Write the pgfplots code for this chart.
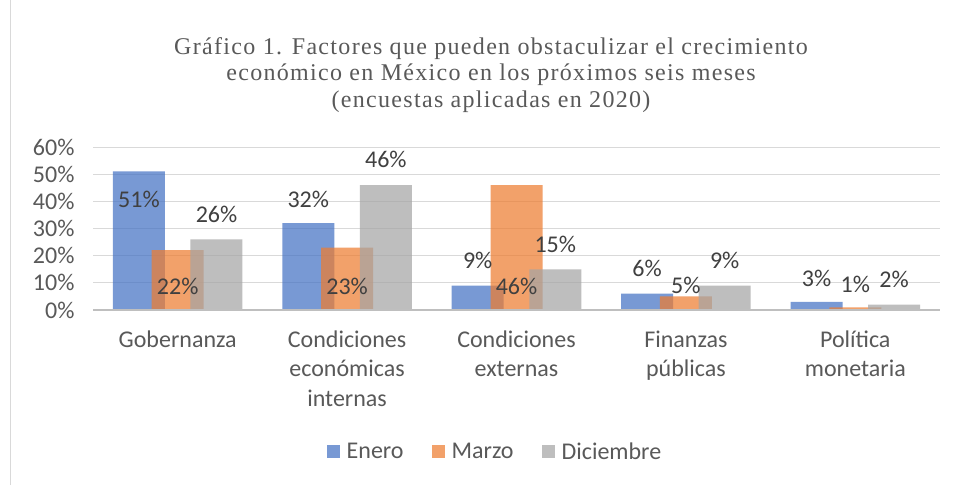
\documentclass[border=0pt]{standalone}
\usepackage{pgfplots}
\pgfplotsset{compat=1.18}
\usepackage{fontspec}
\setmainfont{Carlito}
\newfontfamily\titlefont[LetterSpace=5.5]{Liberation Serif}
\definecolor{cEnero}{HTML}{4472C4}
\definecolor{cMarzo}{HTML}{ED7D31}
\definecolor{cDic}{HTML}{A5A5A5}
\definecolor{cTick}{HTML}{595959}
\definecolor{cLab}{HTML}{404040}
\definecolor{cGrid}{HTML}{D9D9D9}
\definecolor{cAxis}{HTML}{BFBFBF}
\begin{document}
\begin{tikzpicture}[x=1pt,y=1pt]
\path[fill=white] (0,0) rectangle (957,485);
\draw[cGrid, line width=1.2pt] (10.5,0) -- (10.5,485);
\node[font=\titlefont\fontsize{24}{26.5}\selectfont, text=cTick, align=center] at (491,410) {Gráfico 1. Factores que pueden obstaculizar el crecimiento\\económico en México en los próximos seis meses\\(encuestas aplicadas en 2020)};
\begin{axis}[
  at={(93pt,175pt)}, anchor=south west,
  scale only axis, width=847pt, height=163pt,
  xmin=-0.5, xmax=4.5, ymin=0, ymax=60,
  ytick={0,10,...,60},
  yticklabel={\pgfmathprintnumber{\tick}\%},
  xtick={0,1,2,3,4},
  xticklabels={Gobernanza,{Condiciones\\económicas\\internas},{Condiciones\\externas},{Finanzas\\públicas},{Política\\monetaria}},
  xticklabel style={align=center, font=\fontsize{24}{29.5}\selectfont, text=cTick, yshift=-17pt},
  yticklabel style={font=\fontsize{24}{28}\selectfont, text=cTick, xshift=-15pt},
  /pgf/number format/assume math mode=true,
  axis line style={draw=none},
  tick style={draw=none},
  ymajorgrids, grid style={cGrid, line width=1pt},
  clip=false,
  legend style={at={(0.4746,-0.871)}, anchor=center, draw=none, fill=none,
    legend columns=3, font=\fontsize{24}{28}\selectfont, text=cTick,
    /tikz/every odd column/.append style={column sep=5pt},
    /tikz/every even column/.append style={column sep=26pt}},
  legend image code/.code={\fill[#1] (0pt,-6.5pt) rectangle (13pt,6.5pt);},
]
\addplot[ybar, bar width=0.307, bar shift=-0.229, fill=cEnero, fill opacity=0.72, draw=none]
  coordinates {(0,51) (1,32) (2,9) (3,6) (4,3)};
\addlegendentry{Enero}
\addplot[ybar, bar width=0.307, bar shift=0, fill=cMarzo, fill opacity=0.72, draw=none]
  coordinates {(0,22) (1,23) (2,46) (3,5) (4,1)};
\addlegendentry{Marzo}
\addplot[ybar, bar width=0.307, bar shift=0.229, fill=cDic, fill opacity=0.72, draw=none]
  coordinates {(0,26) (1,46) (2,15) (3,9) (4,2)};
\addlegendentry{Diciembre}
\draw[cAxis, line width=2.5pt] (axis cs:-0.5,0) -- (axis cs:4.5,0);
\addplot[draw=none, mark=none, forget plot, point meta=explicit,
  nodes near coords={\pgfmathprintnumber{\pgfplotspointmeta}\%},
  every node near coord/.append style={anchor=center, font=\fontsize{24}{28}\selectfont, text=cLab, inner sep=0pt}]
  table[meta=v] {
x y v
-0.229 40.8 51
0.229 35.3 26
0 8.8 22
0.771 40.8 32
1.229 55.5 46
1 8.8 23
1.771 18.4 9
2 8.8 46
2.229 24.3 15
2.771 15.4 6
3 9.2 5
3.229 18.4 9
3.771 11.8 3
4 9.6 1
4.229 11.4 2
};
\end{axis}
\pgfresetboundingbox
\path (0,0) rectangle (957,485);
\end{tikzpicture}
\end{document}
